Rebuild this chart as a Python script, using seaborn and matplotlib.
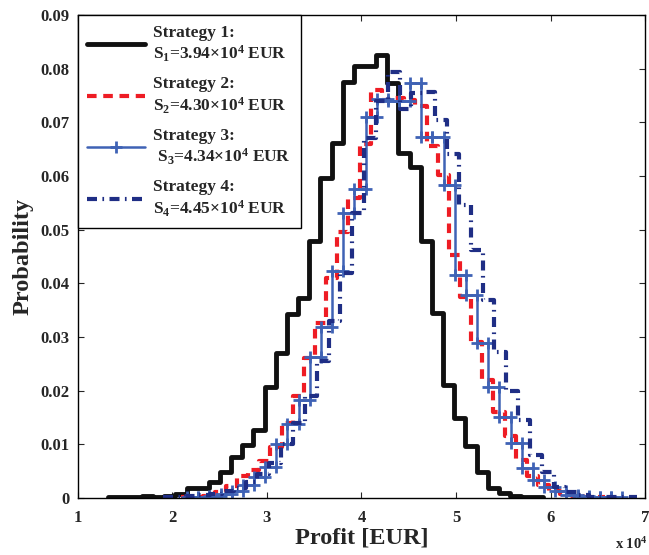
import numpy as np
import pandas as pd
import matplotlib
matplotlib.use("Agg")
import matplotlib.pyplot as plt
import seaborn as sns

# probability per histogram bin, profit in units of 10^4 EUR
bin_width = 0.118

s1_start = 1.323
s1_prob = [0.0001, 0.0001, 0.0001, 0.0003, 0.0002, 0.0003, 0.0007, 0.0019, 0.0019, 0.0030,
           0.0049, 0.0077, 0.0099, 0.0127, 0.0207, 0.0270, 0.0343, 0.0372, 0.0478, 0.0596,
           0.0661, 0.0776, 0.0804, 0.0804, 0.0825, 0.0773, 0.0642, 0.0617, 0.0478, 0.0344,
           0.0210, 0.0148, 0.0096, 0.0049, 0.0018, 0.0009, 0.0003, 0.0001, 0.0001]

s2_start = 2.092
s2_prob = [0.0001, 0.0002, 0.0004, 0.0010, 0.0022, 0.0040, 0.0052, 0.0068, 0.0095, 0.0140,
           0.0190, 0.0260, 0.0325, 0.0409, 0.0496, 0.0558, 0.0660, 0.0760, 0.0742, 0.0745,
           0.0742, 0.0730, 0.0655, 0.0602, 0.0453, 0.0375, 0.0290, 0.0220, 0.0160, 0.0115,
           0.0070, 0.0040, 0.0023, 0.0013, 0.0007, 0.0004, 0.0002, 0.0001]

s3_start = 2.155
s3_prob = [0.0001, 0.0002, 0.0004, 0.0008, 0.0012, 0.0024, 0.0038, 0.0058, 0.0100, 0.0138,
           0.0183, 0.0263, 0.0319, 0.0422, 0.0530, 0.0575, 0.0709, 0.0743, 0.0740, 0.0740,
           0.0773, 0.0672, 0.0672, 0.0583, 0.0416, 0.0378, 0.0288, 0.0207, 0.0150, 0.0102,
           0.0055, 0.0034, 0.0021, 0.0012, 0.0006, 0.0003, 0.0001, 0.0001, 0.0001]

s4_start = 1.897
s4_width = 0.1253
s4_prob = [0.0001, 0.0002, 0.0003, 0.0005, 0.0008, 0.0012, 0.0018, 0.0030, 0.0045, 0.0065,
           0.0100, 0.0140, 0.0190, 0.0255, 0.0330, 0.0420, 0.0530, 0.0670, 0.0740, 0.0793,
           0.0725, 0.0755, 0.0757, 0.0704, 0.0640, 0.0546, 0.0462, 0.0369, 0.0272, 0.0200,
           0.0145, 0.0080, 0.0048, 0.0020, 0.0010, 0.0005, 0.0002, 0.0001, 0.0001, 0.0001]

labels = ["Strategy 1:\nS$_1$=3.94×10$^4$ EUR",
          "Strategy 2:\nS$_2$=4.30×10$^4$ EUR",
          "Strategy 3:\n S$_3$=4.34×10$^4$ EUR",
          "Strategy 4:\nS$_4$=4.45×10$^4$ EUR"]


def stairs(start, width, prob):
    # vertices of a MATLAB-like stairs outline
    edges = start + width * np.arange(len(prob) + 1)
    return pd.DataFrame({"x": np.repeat(edges, 2)[1:-1], "y": np.repeat(prob, 2)})


sns.set_style("ticks")
plt.rcParams["font.family"] = ["Liberation Serif", "DejaVu Serif"]
plt.rcParams["font.weight"] = "bold"
plt.rcParams["axes.labelweight"] = "bold"
plt.rcParams["mathtext.fontset"] = "custom"
plt.rcParams["mathtext.bf"] = "Liberation Serif:bold"
plt.rcParams["mathtext.rm"] = "Liberation Serif:bold"
plt.rcParams["mathtext.it"] = "Liberation Serif:bold"
plt.rcParams["mathtext.default"] = "bf"

fig = plt.figure(figsize=(6.49, 5.55), dpi=100)
ax = fig.add_axes([0.120, 0.103, 0.874, 0.870])

sns.lineplot(data=stairs(s1_start, bin_width, s1_prob), x="x", y="y", sort=False, estimator=None,
             color="#111111", lw=3.5, label=labels[0], ax=ax)
sns.lineplot(data=stairs(s2_start, bin_width, s2_prob), x="x", y="y", sort=False, estimator=None,
             color="#ee1c24", lw=3.0, linestyle=(0, (2.3, 1.6)), label=labels[1], ax=ax)
sns.lineplot(data=stairs(s3_start, bin_width, s3_prob), x="x", y="y", sort=False, estimator=None,
             color="#3f62b5", lw=1.8, marker="+", markersize=9, markeredgewidth=2.0,
             markeredgecolor="#3f62b5", label=labels[2], ax=ax)
sns.lineplot(data=stairs(s4_start, s4_width, s4_prob), x="x", y="y", sort=False, estimator=None,
             color="#1f2e85", lw=3.0, linestyle=(0, (2.4, 1.3, 0.4, 1.3)), label=labels[3], ax=ax)

ax.set_xlim(1, 7)
ax.set_ylim(0, 0.09)
ax.set_xticks(range(1, 8))
ax.set_xticklabels([str(v) for v in range(1, 8)])
ax.set_yticks(np.arange(0, 0.091, 0.01))
ax.set_yticklabels(["0"] + ["%.2f" % v for v in np.arange(0.01, 0.091, 0.01)])
ax.tick_params(direction="in", length=4, width=0.8, top=True, right=True, labelsize=12)
ax.tick_params(axis="x", pad=9)
ax.tick_params(axis="y", pad=6)
for s in ax.spines.values():
    s.set_linewidth(1.0)
    s.set_color("black")

ax.set_xlabel("Profit [EUR]", fontsize=17.5, labelpad=1)
ax.set_ylabel("Probability", fontsize=17.5, labelpad=5)
fig.text(0.998, 0.011, "x 10$^4$", ha="right", va="baseline", fontsize=10.5)

leg = ax.legend(loc="upper left", borderaxespad=0, fancybox=False, edgecolor="black",
                framealpha=1, handlelength=3.3, handletextpad=0.5, labelspacing=0.7,
                borderpad=0.55, prop={"size": 12.5, "weight": "bold"})
leg.get_frame().set_linewidth(1.0)

fig.savefig("out.png", dpi=100)
